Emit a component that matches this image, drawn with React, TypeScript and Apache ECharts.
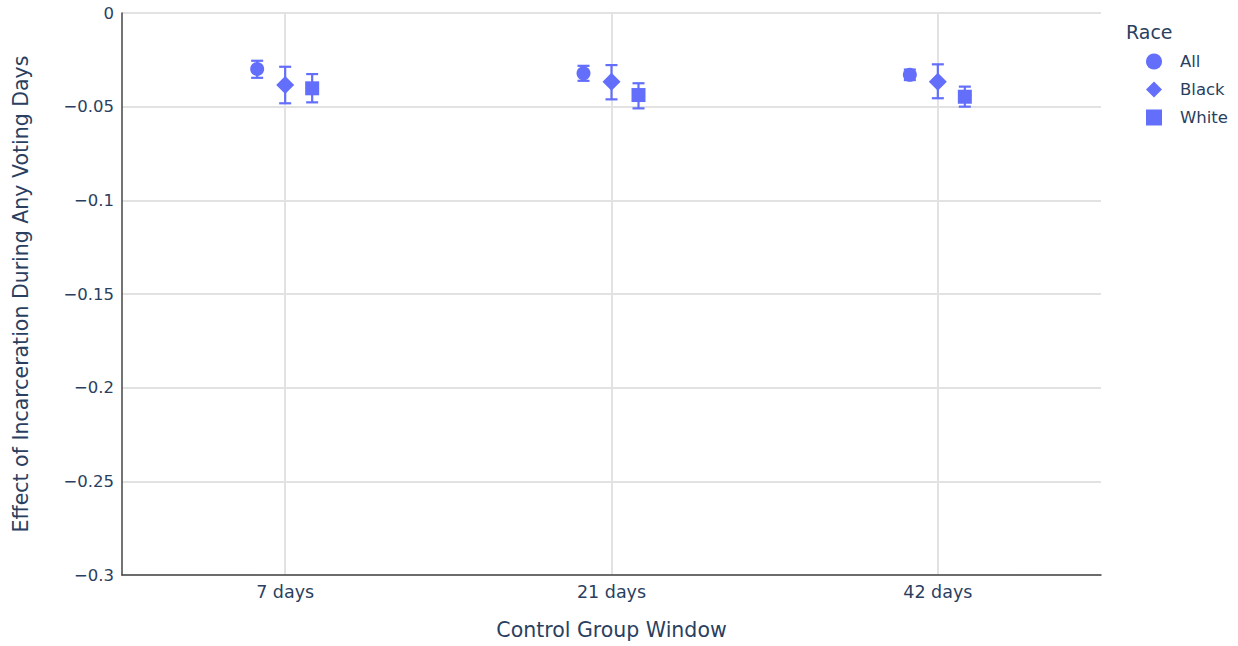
import React, { useEffect, useRef } from "react";
import * as echarts from "echarts";

const categories = ["7 days", "21 days", "42 days"];
const seriesNames = ["All", "Black", "White"];

const allMean = [-0.0299, -0.0322, -0.033];
const allLow = [-0.0346, -0.0362, -0.0358];
const allHigh = [-0.0255, -0.0282, -0.0302];

const blackMean = [-0.0384, -0.0367, -0.0367];
const blackLow = [-0.0482, -0.0461, -0.0455];
const blackHigh = [-0.0287, -0.0278, -0.0274];

const whiteMean = [-0.0402, -0.0438, -0.0447];
const whiteLow = [-0.0477, -0.0509, -0.05];
const whiteHigh = [-0.0326, -0.0375, -0.0393];

const yTicks = [0, -0.05, -0.1, -0.15, -0.2, -0.25, -0.3];

const COLOR = "#636efa";
const TEXT = "#2a3f5f";
const FONT = "DejaVu Sans";
const GRID = "#e2e2e2";

export default function App() {
  const ref = useRef<HTMLDivElement>(null);
  useEffect(() => {
    if (!ref.current) return;
    const chart = echarts.init(ref.current, undefined, { renderer: "svg" });

    const groups = [
      { name: seriesNames[0], mean: allMean, low: allLow, high: allHigh, symbol: "circle", size: 14, offset: -28 },
      { name: seriesNames[1], mean: blackMean, low: blackLow, high: blackHigh, symbol: "diamond", size: 18, offset: 0 },
      { name: seriesNames[2], mean: whiteMean, low: whiteLow, high: whiteHigh, symbol: "rect", size: 14, offset: 27 },
    ];

    const series: any[] = [];
    groups.forEach((g, gi) => {
      series.push({
        type: "custom",
        name: g.name,
        silent: true,
        itemStyle: { color: COLOR },
        data: categories.map((_, i) => [i, g.low[i], g.high[i]]),
        encode: { x: 0, y: [1, 2] },
        renderItem: (params: any, api: any) => {
          const cx = api.coord([api.value(0), 0])[0] + g.offset;
          const yl = api.coord([api.value(0), api.value(1)])[1];
          const yh = api.coord([api.value(0), api.value(2)])[1];
          const hw = 6;
          const style = { stroke: COLOR, lineWidth: 2.2 };
          return {
            type: "group",
            children: [
              { type: "line", shape: { x1: cx, y1: yl, x2: cx, y2: yh }, style },
              { type: "line", shape: { x1: cx - hw, y1: yl, x2: cx + hw, y2: yl }, style },
              { type: "line", shape: { x1: cx - hw, y1: yh, x2: cx + hw, y2: yh }, style },
            ],
          };
        },
        z: 2,
        ...(gi === 0
          ? {
              markLine: {
                silent: true,
                symbol: "none",
                label: { show: false },
                lineStyle: { color: GRID, width: 2, type: "solid" },
                data: categories.map((c) => ({ xAxis: c })),
                z: 0,
              },
            }
          : {}),
      });
      series.push({
        type: "scatter",
        name: g.name,
        symbol: g.symbol,
        symbolSize: g.size,
        symbolOffset: [g.offset, 0],
        itemStyle: { color: COLOR, opacity: 1 },
        data: categories.map((c, i) => [c, g.mean[i]]),
        z: 3,
      });
    });

    chart.setOption({
      animation: false,
      color: [COLOR],
      backgroundColor: "#ffffff",
      textStyle: { fontFamily: FONT, color: TEXT },
      title: {
        text: "Race",
        left: 1121,
        top: 17,
        textStyle: { fontFamily: FONT, color: TEXT, fontSize: 19, fontWeight: "normal" },
      },
      legend: {
        orient: "vertical",
        left: 1141,
        top: 48,
        itemWidth: 16,
        itemHeight: 16,
        itemGap: 11,
        data: [
          { name: "All", icon: "circle", itemStyle: { color: COLOR } },
          { name: "Black", icon: "diamond", itemStyle: { color: COLOR } },
          { name: "White", icon: "rect", itemStyle: { color: COLOR } },
        ],
        textStyle: { fontFamily: FONT, color: TEXT, fontSize: 16.5, padding: [0, 0, 0, 13] },
      },
      grid: { left: 122, right: 137, top: 13, bottom: 71, containLabel: false },
      xAxis: {
        type: "category",
        data: categories,
        name: "Control Group Window",
        nameLocation: "middle",
        nameGap: 44,
        nameTextStyle: { fontFamily: FONT, color: TEXT, fontSize: 20.5 },
        axisLine: { show: true, onZero: false, lineStyle: { color: "#444444", width: 1.5 } },
        axisTick: { show: false },
        axisLabel: { fontFamily: FONT, color: TEXT, fontSize: 17.5, margin: 8 },
        splitLine: { show: false },
      },
      yAxis: {
        type: "value",
        min: -0.3,
        max: 0,
        interval: 0.05,
        name: "Effect of Incarceration During Any Voting Days",
        nameLocation: "middle",
        nameGap: 91,
        nameTextStyle: { fontFamily: FONT, color: TEXT, fontSize: 20.5 },
        axisLine: { show: true, onZero: false, lineStyle: { color: "#444444", width: 1.5 } },
        axisTick: { show: false },
        axisLabel: {
          fontFamily: FONT,
          color: TEXT,
          fontSize: 16.5,
          margin: 8,
          customValues: yTicks,
          formatter: (v: number) => {
            const r = Math.round(v * 1000) / 1000;
            if (r === 0) return "0";
            return (r < 0 ? "\u2212" : "") + String(Math.abs(r));
          },
        },
        splitLine: { show: true, lineStyle: { color: GRID, width: 2 } },
      },
      series,
    });

    return () => chart.dispose();
  }, []);

  return (
    <div
      ref={ref}
      style={{ position: "fixed", left: 0, top: 0, width: 1238, height: 646 }}
    />
  );
}
